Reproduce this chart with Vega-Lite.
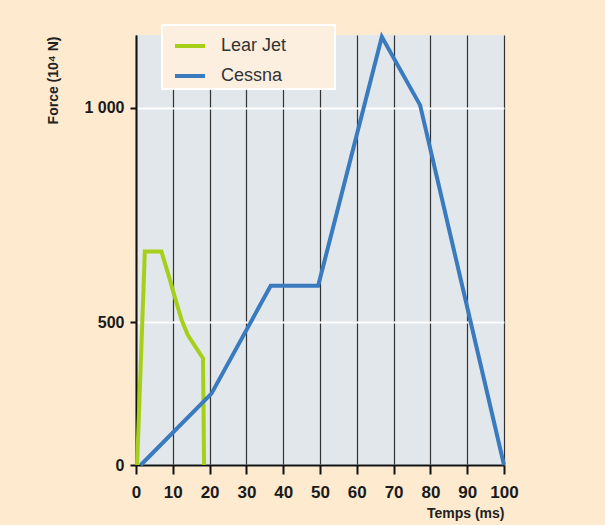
{
  "$schema": "https://vega.github.io/schema/vega-lite/v6.json",
  "width": 368,
  "height": 430,
  "autosize": {"type": "none"},
  "padding": {"left": 136, "top": 35, "right": 101, "bottom": 60},
  "background": "#fdeacf",
  "config": {"view": {"fill": "#e1e7ea", "stroke": null}, "font": "Liberation Sans"},
  "data": {
    "values": [
      {"plane": "Lear Jet", "t": 0.3, "force": 0},
      {"plane": "Lear Jet", "t": 2.4, "force": 665},
      {"plane": "Lear Jet", "t": 6.9, "force": 665},
      {"plane": "Lear Jet", "t": 8.7, "force": 614},
      {"plane": "Lear Jet", "t": 10.5, "force": 560},
      {"plane": "Lear Jet", "t": 12.4, "force": 505},
      {"plane": "Lear Jet", "t": 14.1, "force": 455},
      {"plane": "Lear Jet", "t": 16.4, "force": 409},
      {"plane": "Lear Jet", "t": 18.2, "force": 374},
      {"plane": "Lear Jet", "t": 18.5, "force": 0},
      {"plane": "Cessna", "t": 1.3, "force": 0},
      {"plane": "Cessna", "t": 20.5, "force": 250},
      {"plane": "Cessna", "t": 36.6, "force": 585},
      {"plane": "Cessna", "t": 49.5, "force": 585},
      {"plane": "Cessna", "t": 66.8, "force": 1165},
      {"plane": "Cessna", "t": 77.2, "force": 1006},
      {"plane": "Cessna", "t": 100, "force": 0}
    ]
  },
  "mark": {"type": "line", "strokeWidth": 4},
  "encoding": {
    "x": {
      "field": "t",
      "type": "quantitative",
      "scale": {"domain": [0, 100], "nice": false},
      "axis": {
        "values": [0, 10, 20, 30, 40, 50, 60, 70, 80, 90, 100],
        "title": "Temps (ms)",
        "titleAnchor": "end",
        "titleFontSize": 14,
        "titleFontWeight": "bold",
        "titleColor": "#222",
        "titleY": 48,
        "titleBaseline": "middle",
        "labelFontSize": 17,
        "labelFontWeight": "bold",
        "labelColor": "#1a1a1a",
        "labelPadding": 10,
        "labelFlush": false,
        "labelOverlap": false,
        "tickSize": 9,
        "tickWidth": 2,
        "tickColor": "#111",
        "domainColor": "#111",
        "domainWidth": 2,
        "grid": true,
        "gridColor": "#333",
        "gridWidth": 1.2
      }
    },
    "y": {
      "field": "force",
      "type": "quantitative",
      "scale": {"domain": [0, 500, 1000, 1169], "range": [430, 287.3, 72.7, 0], "nice": false, "zero": false},
      "axis": {
        "values": [0, 500, 1000],
        "labelExpr": "datum.value == 1000 ? '1 000' : datum.label",
        "title": "Force (10⁴ N)",
        "titleFontSize": 14,
        "titleFontWeight": "bold",
        "titleColor": "#222",
        "titleX": -83,
        "titleY": 45,
        "titleAngle": -90,
        "titleAlign": "center",
        "titleBaseline": "middle",
        "labelFontSize": 16,
        "labelFontWeight": "bold",
        "labelColor": "#1a1a1a",
        "labelPadding": 6,
        "tickSize": 6,
        "tickWidth": 2,
        "tickColor": "#111",
        "domainColor": "#111",
        "domainWidth": 2,
        "grid": true,
        "gridColor": "white",
        "gridWidth": 2
      }
    },
    "color": {
      "field": "plane",
      "type": "nominal",
      "scale": {"domain": ["Lear Jet", "Cessna"], "range": ["#a6cf1a", "#3a7abf"]},
      "legend": {
        "title": " ",
        "titleOrient": "right",
        "titleFontSize": 8,
        "titlePadding": 45,
        "orient": "none",
        "legendX": 26,
        "legendY": -10,
        "symbolType": "stroke",
        "symbolSize": 900,
        "symbolStrokeWidth": 4,
        "symbolOffset": 7,
        "labelOffset": 14,
        "labelFontSize": 18,
        "labelColor": "#333",
        "rowPadding": 4,
        "padding": 4,
        "fillColor": "#fdefe0",
        "strokeColor": "white",
        "encode": {"legend": {"update": {"strokeWidth": {"value": 2}}}}
      }
    }
  }
}
